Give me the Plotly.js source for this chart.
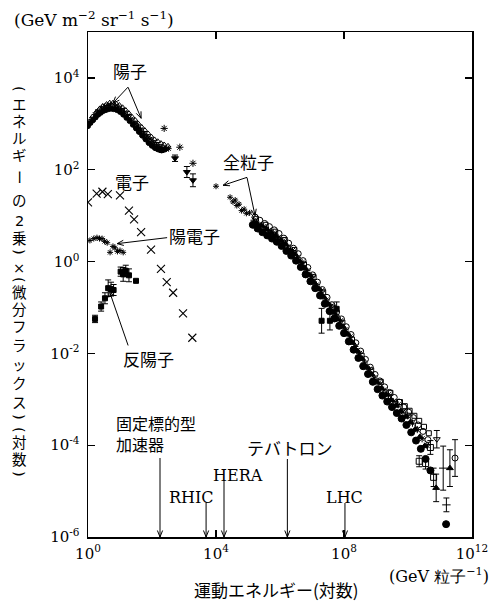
<!DOCTYPE html>
<html><head><meta charset="utf-8">
<script src="https://cdn.plot.ly/plotly-3.0.1.min.js"></script>
<style>html,body{margin:0;padding:0;background:#fff}#chart{width:491px;height:604px}</style>
</head><body><div id="chart"></div>
<script>
// ---- DATA (log10 of kinetic energy [GeV], log10 of E^2 x flux [GeV m^-2 sr^-1 s^-1]) ----
const xTickVals = [1, 1e4, 1e8, 1e12];
const xTickText = ['10<sup>0</sup>', '10<sup>4</sup>', '10<sup>8</sup>', '10<sup>12</sup>'];
const yTickVals = [1e-6, 1e-4, 1e-2, 1, 1e2, 1e4];
const yTickText = ['10<sup>-6</sup>', '10<sup>-4</sup>', '10<sup>-2</sup>', '10<sup>0</sup>', '10<sup>2</sup>', '10<sup>4</sup>'];

// protons (陽子)
const protonA_E = [0.00,0.08,0.16,0.24,0.32,0.40,0.48,0.56,0.64,0.72,0.80,0.90,1.00,1.10,1.20,1.30,1.40,1.50,1.60,1.70,1.80,1.90,2.00,2.10,2.20,2.30,2.40];
const protonA_F = [2.95,3.02,3.08,3.14,3.20,3.24,3.28,3.30,3.32,3.33,3.32,3.30,3.26,3.20,3.13,3.06,2.98,2.90,2.82,2.74,2.66,2.58,2.52,2.47,2.44,2.42,2.44];
const protonB_E = [0.04,0.14,0.26,0.36,0.46,0.58,0.68,0.78,0.88,0.98,1.08,1.18,1.28,1.38,1.48,1.58,1.68,1.78,1.88,1.98,2.08,2.18,2.28,2.38,2.50];
const protonB_F = [3.05,3.16,3.26,3.33,3.39,3.43,3.46,3.46,3.44,3.41,3.36,3.30,3.23,3.15,3.08,3.00,2.93,2.86,2.79,2.72,2.66,2.62,2.58,2.55,2.52];
const protonC_E = [0.02,0.12,0.22,0.30,0.42,0.52,0.62,0.70,0.84,0.94,1.04,1.14,1.24,1.34,1.44,1.54,1.64,1.74,1.84,1.94,2.04,2.14,2.24,2.34,2.44,2.52];
const protonC_F = [3.00,3.10,3.20,3.27,3.34,3.38,3.40,3.41,3.39,3.36,3.31,3.25,3.18,3.10,3.03,2.95,2.87,2.80,2.73,2.67,2.60,2.54,2.50,2.47,2.45,2.46];
const protonD_E = [1.50,1.60,1.70,1.80,1.90,2.00,2.10,2.20,2.30];
const protonD_F = [2.95,2.85,2.77,2.70,2.62,2.55,2.50,2.46,2.43];
const protonHi_E = [2.72,3.09,3.28];
const protonHi_F = [2.25,1.95,1.77];
const protonHi_Err = [0.07,0.12,0.14];
const protonStray_E = [2.38,2.87,3.28];
const protonStray_F = [2.90,2.49,2.14];

// electrons (電子)
const electron_E = [0.00,0.27,0.45,0.62,1.00,1.28,1.44,1.66,1.97,2.28,2.46,2.66,2.97,3.26];
const electron_F = [1.29,1.48,1.52,1.47,1.44,1.11,0.92,0.64,0.26,-0.16,-0.45,-0.68,-1.13,-1.66];

// positrons (陽電子)
const positron_E = [0.06,0.18,0.28,0.36,0.44,0.52,0.60,0.69,0.78,0.84,0.92,1.00,1.10];
const positron_F = [0.46,0.50,0.52,0.50,0.50,0.44,0.41,0.20,0.33,0.30,0.22,0.24,0.20];

// antiprotons (反陽子)
const antip_E = [0.22,0.41,0.53,0.63,0.72,0.80,1.02,1.10,1.18,1.28,1.50];
const antip_F = [-1.25,-0.98,-0.80,-0.58,-0.60,-0.62,-0.22,-0.28,-0.20,-0.30,-0.42];
const antip_Err = [0.08,0.10,0.12,0.18,0.15,0.12,0.10,0.15,0.12,0.14,0.00];

// all particles (全粒子)
const allSparse_E = [4.00,4.44,4.53,4.60,4.65,4.72,4.80,4.88,4.95,5.05];
const allSparse_F = [1.64,1.40,1.30,1.34,1.22,1.25,1.11,1.14,1.05,1.06];
const allLow_E = [5.15,5.30,5.45,5.60,5.75,5.90,6.05,6.20,6.35,6.50,6.65,6.80,6.95,7.10,7.25,7.40,7.55,7.70,7.85,8.00,8.15,8.30,8.45,8.60,8.75,8.90,9.05,9.20,9.35,9.50,9.65,9.80,9.95,10.10,10.25,10.40,10.55,10.70];
const allLow_F = [0.80,0.72,0.64,0.57,0.50,0.43,0.34,0.23,0.13,0.02,-0.12,-0.28,-0.43,-0.58,-0.74,-0.92,-1.08,-1.24,-1.40,-1.56,-1.74,-1.92,-2.10,-2.28,-2.45,-2.62,-2.78,-2.92,-3.05,-3.17,-3.30,-3.42,-3.56,-3.72,-3.90,-4.08,-4.30,-4.55];
const allHigh_E = [5.22,5.37,5.52,5.67,5.82,5.97,6.12,6.27,6.42,6.57,6.72,6.87,7.02,7.17,7.32,7.47,7.62,7.77,7.92,8.07,8.22,8.37,8.52,8.67,8.82,8.97,9.12,9.27,9.42,9.57,9.72,9.87,10.02,10.17,10.32,10.47,10.62];
const allHigh_F = [0.97,0.90,0.83,0.76,0.69,0.61,0.51,0.40,0.29,0.17,0.02,-0.13,-0.29,-0.45,-0.61,-0.78,-0.94,-1.10,-1.25,-1.42,-1.59,-1.77,-1.95,-2.13,-2.30,-2.46,-2.60,-2.73,-2.85,-2.96,-3.06,-3.17,-3.28,-3.40,-3.56,-3.70,-3.88];
const allMid_E = [5.19,5.34,5.49,5.64,5.79,5.94,6.09,6.24,6.39,6.54,6.69,6.84,6.99,7.14,7.29,7.44,7.59,7.74,7.89,8.04,8.19,8.34,8.49,8.64,8.79,8.94,9.09,9.24,9.39,9.54,9.69,9.84,9.99,10.14,10.29,10.44,10.59];
const allMid_F = [0.90,0.80,0.76,0.68,0.62,0.52,0.45,0.32,0.24,0.09,-0.02,-0.20,-0.32,-0.51,-0.64,-0.84,-0.97,-1.16,-1.29,-1.49,-1.64,-1.85,-2.00,-2.21,-2.35,-2.54,-2.64,-2.80,-2.90,-3.05,-3.12,-3.28,-3.36,-3.52,-3.66,-3.86,-4.00];
const allTri_E = [5.27,5.42,5.57,5.72,5.87,6.02,6.17,6.32,6.47,6.62,6.77,6.92,7.07,7.22,7.37,7.52,7.67,7.82,7.97,8.12,8.27,8.42,8.57,8.72,8.87,9.02,9.17,9.32,9.47,9.62,9.77,9.92,10.07,10.22,10.37,10.52];
const allTri_F = [0.83,0.78,0.70,0.62,0.56,0.46,0.38,0.24,0.16,0.00,-0.14,-0.30,-0.46,-0.60,-0.78,-0.93,-1.11,-1.26,-1.42,-1.58,-1.77,-1.95,-2.12,-2.30,-2.46,-2.63,-2.76,-2.90,-3.01,-3.14,-3.26,-3.38,-3.50,-3.66,-3.82,-4.02];
const allSq_E = [5.25,5.55,5.85,6.15,6.45,6.75,7.05,7.35,7.65,7.95,8.25,8.55,8.85,9.15,9.45,9.75,9.90,10.05,10.20,10.35,10.50,10.65];
const allSq_F = [0.93,0.80,0.65,0.47,0.25,-0.06,-0.34,-0.67,-1.00,-1.33,-1.70,-2.05,-2.37,-2.62,-2.86,-3.06,-3.15,-3.25,-3.36,-3.47,-3.60,-3.74];
const allKnee_E = [7.30,7.56,7.77];
const allKnee_F = [-1.29,-1.29,-1.03];
const allKnee_Err = [0.27,0.20,0.15];
const allTail_E = [10.35,10.55,10.70,10.80,10.90,10.88,11.10,11.20,11.31,11.47];
const allTail_F = [-4.35,-4.40,-4.05,-4.70,-3.87,-4.93,-4.50,-5.30,-4.50,-4.28];
const allTail_Err = [0.12,0.12,0.15,0.20,0.19,0.30,0.48,0.15,0.40,0.40];
const allTailSym = ['square-open','square-open','square-open','square-open','triangle-down-open','triangle-up','line-ew','line-ew','triangle-up','circle-open'];
const allLast_E = [11.19];
const allLast_F = [-5.72];

// accelerators (log10 GeV)
const accelNames = ['固定標的型', 'RHIC', 'HERA', 'テバトロン', 'LHC'];
const accelE = [2.25, 3.69, 4.25, 6.23, 8.03];

// ---- DRAWING ----
const P = v => Math.pow(10, v);
const BLACK = '#000';
const SERIF = '"DejaVu Serif", "Liberation Serif", serif';
const JP = '"Noto Sans CJK JP", sans-serif';
const JPV = '"DejaVu Sans", "Noto Sans CJK JP", sans-serif';

function tr(lx, ly, symbol, size, extra) {
  const t = {
    type: 'scatter', mode: 'markers',
    x: lx.map(P), y: ly.map(P),
    marker: {symbol: symbol, size: size, color: BLACK, line: {color: BLACK, width: 1}},
    hoverinfo: 'skip', showlegend: false
  };
  if (extra) Object.assign(t, extra);
  return t;
}
function errs(ly, e) {
  return {type: 'data', symmetric: false,
    array: ly.map((v, i) => P(v + e[i]) - P(v)),
    arrayminus: ly.map((v, i) => P(v) - P(v - e[i])),
    color: BLACK, thickness: 1, width: 3};
}

const data = [
  tr(protonA_E, protonA_F, 'circle', 5),
  tr(protonB_E, protonB_F, 'triangle-up-open', 5),
  tr(protonC_E, protonC_F, 'asterisk-open', 5),
  tr(protonD_E, protonD_F, 'square-open', 5),
  tr(protonHi_E, protonHi_F, 'triangle-down', 6, {error_y: errs(protonHi_F, protonHi_Err)}),
  tr(protonStray_E, protonStray_F, 'asterisk-open', 6),
  tr(electron_E, electron_F, 'x-thin-open', 8, {marker: {symbol: 'x-thin-open', size: 8, color: BLACK, line: {color: BLACK, width: 1.1}}}),
  tr(positron_E, positron_F, 'asterisk-open', 5),
  tr(antip_E, antip_F, 'square', 5, {error_y: errs(antip_F, antip_Err)}),
  tr(allSparse_E, allSparse_F, 'asterisk-open', 5),
  tr(allLow_E, allLow_F, 'circle', 7),
  tr(allHigh_E, allHigh_F, 'circle-open', 6),
  tr(allMid_E, allMid_F, 'asterisk-open', 6),
  tr(allTri_E, allTri_F, 'triangle-up', 6),
  tr(allSq_E, allSq_F, 'square-open', 5),
  tr(allKnee_E, allKnee_F, 'square', 5, {error_y: errs(allKnee_F, allKnee_Err)}),
  tr(allTail_E, allTail_F, 'circle', 6, {error_y: errs(allTail_F, allTail_Err)}),
  tr(allLast_E, allLast_F, 'circle', 7)
];
data[16].marker.symbol = allTailSym;

// pixel geometry of the plot frame (for paper-referenced text and arrows)
const W = 491, H = 604;
const L = 88, R = 472, T = 32, B = 537;
const px = x => (x - L) / (R - L);
const py = y => (B - y) / (B - T);
const XR = [0, 12], YR = [-6, 5];
const toPxX = lx => L + (lx - XR[0]) / (XR[1] - XR[0]) * (R - L);
const toPxY = ly => B - (ly - YR[0]) / (YR[1] - YR[0]) * (B - T);

const ann = [];
const shapes = [];
function label(text, x, y, size, family, anchor) {
  ann.push({text: text, xref: 'x', yref: 'y', x: x, y: y, showarrow: false, align: 'left',
    font: {family: family || JP, size: size || 17, color: BLACK}, xanchor: anchor || 'center', yanchor: 'middle',
    borderpad: 0});
}
function seg(x0, y0, x1, y1) {
  shapes.push({type: 'line', xref: 'paper', yref: 'paper', x0: px(x0), y0: py(y0), x1: px(x1), y1: py(y1),
    line: {color: BLACK, width: 1}});
}
// arrow whose head sits at data point (lx, ly) and tail is offset (dx, dy) pixels
function arrow(lx, ly, dx, dy) {
  const hx = toPxX(lx), hy = toPxY(ly);
  const tx = hx + dx, ty = hy + dy;
  seg(tx, ty, hx, hy);
  const ang = Math.atan2(ty - hy, tx - hx);
  const len = 7, spread = 0.38;
  seg(hx, hy, hx + len * Math.cos(ang + spread), hy + len * Math.sin(ang + spread));
  seg(hx, hy, hx + len * Math.cos(ang - spread), hy + len * Math.sin(ang - spread));
}
// species labels
label('陽子', 1.31, 4.17);
arrow(0.78, 3.45, 15, -16);
arrow(1.66, 3.12, -13, -31);
label('全粒子', 5.03, 2.18);
arrow(4.22, 1.66, 24, -8);
arrow(5.22, 1.00, -8, -38);
label('電子', 1.38, 1.75);
label('陽電子', 3.34, 0.57);
arrow(0.91, 0.39, 50, -6);
label('反陽子', 1.88, -2.12);
arrow(0.66, -0.63, 19, 55);
// accelerators
label(accelNames[0], 0.84, -3.56, 16, JPV, 'left');
label('加速器', 0.84, -4.00, 16, JPV, 'left');
label(accelNames[1], 3.22, -5.13, 16, SERIF);
label(accelNames[2], 4.69, -4.67, 16, SERIF);
label(accelNames[3], 6.31, -4.06, 17, JP);
label(accelNames[4], 8.03, -5.13, 16, SERIF);
const accelTail = [-79, -34, -57, -78, -34];
accelE.forEach((e, i) => arrow(e, YR[0], 0, accelTail[i]));

// unit labels
ann.push({text: '(GeV m<sup>−2</sup> sr<sup>−1</sup> s<sup>−1</sup>)', xref: 'paper', yref: 'paper',
  x: px(12), y: py(19), xanchor: 'left', yanchor: 'middle', showarrow: false,
  font: {family: SERIF, size: 17, color: BLACK}});
ann.push({text: '(GeV 粒子<sup>−1</sup>)', xref: 'paper', yref: 'paper',
  x: px(491), y: py(575), xanchor: 'right', yanchor: 'middle', showarrow: false,
  font: {family: SERIF, size: 16, color: BLACK}});
ann.push({text: '運動エネルギー(対数)', xref: 'paper', yref: 'paper',
  x: px(276), y: py(589), xanchor: 'center', yanchor: 'middle', showarrow: false,
  font: {family: JP, size: 17, color: BLACK}});
// vertical y-axis title: one upright character per slot, as in vertical Japanese writing
const yTitleChars = ['(', 'エ','ネ','ル','ギ','ー','の','2','乗',')','×','(','微','分','フ','ラ','ッ','ク','ス',')','(','対','数',')'];
const yTitleY = [89,105,122,139,156,177,201,221,239,252,268,280,293,310,327,346,365,384,403,417,430,443,460,474];
yTitleChars.forEach((c, i) => {
  const rot = (c === '(' || c === ')' || c === 'ー');
  ann.push({text: c, xref: 'paper', yref: 'paper', x: px(19), y: py(yTitleY[i]),
    xanchor: 'center', yanchor: 'middle', showarrow: false, textangle: rot ? 90 : 0,
    borderpad: 0, font: {family: JPV, size: 14.5, color: BLACK}});
});

const axisCommon = {
  type: 'log', showgrid: false, zeroline: false, showline: true, linecolor: BLACK, linewidth: 1.5,
  mirror: 'ticks', ticks: 'inside', ticklen: 7, tickwidth: 1.2, tickcolor: BLACK,
  tickfont: {family: SERIF, size: 15, color: BLACK}
};
const layout = {
  width: W, height: H,
  margin: {l: L, r: W - R, t: T, b: H - B},
  paper_bgcolor: '#fff', plot_bgcolor: '#fff',
  showlegend: false,
  xaxis: Object.assign({}, axisCommon, {range: XR, tickvals: xTickVals, ticktext: xTickText, ticklabelstandoff: 2}),
  yaxis: Object.assign({}, axisCommon, {range: YR, tickvals: yTickVals, ticktext: yTickText, ticklabelstandoff: 4}),
  annotations: ann,
  shapes: shapes
};
Plotly.newPlot('chart', data, layout, {staticPlot: true, displayModeBar: false});
</script></body></html>
